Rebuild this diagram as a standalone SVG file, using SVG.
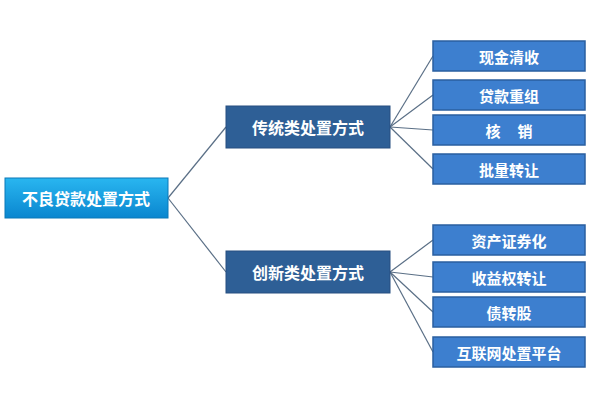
<svg xmlns="http://www.w3.org/2000/svg" width="600" height="400" viewBox="0 0 600 400">
<defs>
<linearGradient id="g" x1="0" y1="0" x2="0" y2="1"><stop offset="0" stop-color="#29b6f0"/><stop offset="1" stop-color="#0a86cf"/></linearGradient>
<style>
.mid{fill:#2e5f96;stroke:#264f80;stroke-width:1}
.leaf{fill:#3d7fcf;stroke:#2a5fa0;stroke-width:1.5}
text{font-family:"Noto Sans CJK SC",sans-serif;font-weight:bold;fill:#fff;text-anchor:middle;dominant-baseline:central}
.c line{stroke:#5a6f86;stroke-width:1.2}
</style>
</defs>
<rect width="600" height="400" fill="#fff"/>
<g class="c">
<line x1="168" y1="198" x2="226" y2="127"/><line x1="168" y1="198" x2="226" y2="272"/>
<line x1="390" y1="127" x2="433" y2="56"/><line x1="390" y1="127" x2="433" y2="95"/><line x1="390" y1="127" x2="433" y2="130"/><line x1="390" y1="127" x2="433" y2="169"/>
<line x1="390" y1="272" x2="433" y2="240"/><line x1="390" y1="272" x2="433" y2="277"/><line x1="390" y1="272" x2="433" y2="312"/><line x1="390" y1="272" x2="433" y2="352"/>
</g>
<g id="root"><rect x="5" y="178" width="163" height="40" fill="url(#g)" stroke="#0b78b8"/><text x="86" y="198" font-size="16">不良贷款处置方式</text></g>
<g id="trad"><rect class="mid" x="226" y="106" width="164" height="42"/><text x="308" y="127" font-size="16">传统类处置方式</text></g>
<g id="innov"><rect class="mid" x="226" y="251" width="164" height="42"/><text x="308" y="272" font-size="16">创新类处置方式</text></g>
<g id="l1"><rect class="leaf" x="433" y="41" width="152" height="30"/><text x="509" y="56" font-size="15">现金清收</text></g>
<g id="l2"><rect class="leaf" x="433" y="80" width="152" height="30"/><text x="509" y="95" font-size="15">贷款重组</text></g>
<g id="l3"><rect class="leaf" x="433" y="115" width="152" height="30"/><text x="509" y="130" font-size="15" xml:space="preserve">核     销</text></g>
<g id="l4"><rect class="leaf" x="433" y="154" width="152" height="30"/><text x="509" y="169" font-size="15">批量转让</text></g>
<g id="l5"><rect class="leaf" x="433" y="225" width="152" height="30"/><text x="509" y="240" font-size="15">资产证券化</text></g>
<g id="l6"><rect class="leaf" x="433" y="262" width="152" height="30"/><text x="509" y="277" font-size="15">收益权转让</text></g>
<g id="l7"><rect class="leaf" x="433" y="297" width="152" height="30"/><text x="509" y="312" font-size="15">债转股</text></g>
<g id="l8"><rect class="leaf" x="433" y="337" width="152" height="30"/><text x="509" y="352" font-size="15">互联网处置平台</text></g>
</svg>
